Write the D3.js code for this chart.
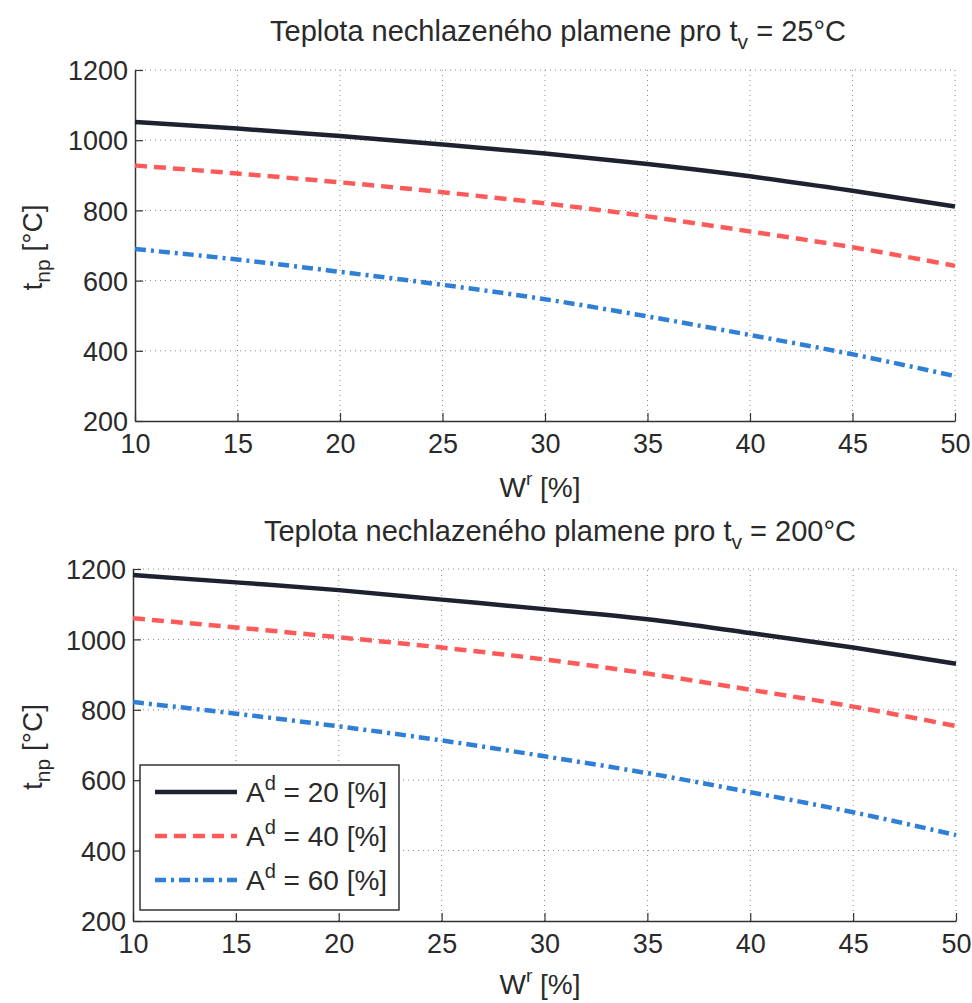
<!DOCTYPE html>
<html>
<head>
<meta charset="utf-8">
<title>Teplota nechlazeného plamene</title>
<script src="https://cdn.jsdelivr.net/npm/d3@7"></script>
<style>
  body { margin: 0; background: #fff; }
  svg { display: block; font-family: "Liberation Sans", Arial, sans-serif; }
</style>
</head>
<body>
<div id="chart"></div>
<script>
// moisture W^r [%]
var moisture = [10, 15, 20, 25, 30, 35, 40, 45, 50];
var ashLabels = ["20", "40", "60"];

// t_v = 25 °C
var top_A20 = [1052, 1033, 1012, 988, 962, 932, 897, 856, 811];
var top_A40 = [928, 905, 880, 852, 820, 783, 740, 695, 642];
var top_A60 = [690, 660, 625, 588, 547, 498, 445, 390, 328];

// t_v = 200 °C
var bot_A20 = [1183, 1162, 1140, 1113, 1086, 1057, 1018, 977, 931];
var bot_A40 = [1060, 1034, 1006, 977, 943, 903, 857, 809, 754];
var bot_A60 = [822, 789, 753, 713, 668, 620, 566, 509, 444];

var xTicks = [10, 15, 20, 25, 30, 35, 40, 45, 50];
var yTicks = [200, 400, 600, 800, 1000, 1200];

var styles = [
  { color: "#1e2130", width: 4.5, dash: null },
  { color: "#ff5a5a", width: 4.5, dash: "12,7" },
  { color: "#2f7fd6", width: 4.5, dash: "11,5,3,5" }
];

var W = 972, H = 1003;
var svg = d3.select("#chart").append("svg")
  .attr("width", W).attr("height", H);

function panel(cfg) {
  var x = d3.scaleLinear().domain([10, 50]).range([cfg.left, cfg.right]);
  var y = d3.scaleLinear().domain([200, 1200]).range([cfg.bottom, cfg.top]);
  var g = svg.append("g");

  // dotted grid
  g.selectAll(".vg").data(xTicks.slice(1)).join("line")
    .attr("x1", d => x(d)).attr("x2", d => x(d))
    .attr("y1", y(200)).attr("y2", y(1200))
    .attr("stroke", "#888").attr("stroke-width", 1).attr("stroke-dasharray", "1,4");
  g.selectAll(".hg").data(yTicks.slice(1)).join("line")
    .attr("x1", x(10)).attr("x2", x(50))
    .attr("y1", d => y(d)).attr("y2", d => y(d))
    .attr("stroke", "#888").attr("stroke-width", 1).attr("stroke-dasharray", "1,4");

  // axes (ticks inward)
  var xAxis = g.append("g").attr("transform", `translate(0,${y(200)})`)
    .call(d3.axisBottom(x).tickValues(xTicks).tickFormat(d3.format("d"))
      .tickSizeInner(-8).tickSizeOuter(0).tickPadding(6));
  var yAxis = g.append("g").attr("transform", `translate(${x(10)},0)`)
    .call(d3.axisLeft(y).tickValues(yTicks).tickFormat(d3.format("d"))
      .tickSizeInner(-8).tickSizeOuter(0).tickPadding(7));
  [xAxis, yAxis].forEach(a => {
    a.select(".domain").attr("stroke", "#333").attr("stroke-width", 1.5);
    a.selectAll(".tick line").attr("stroke", "#333").attr("stroke-width", 1.2);
    a.selectAll("text").attr("fill", "#2a2a2a").style("font-size", "27px")
      .style("font-family", "'Liberation Sans', Arial, sans-serif");
  });
  xAxis.selectAll("text").attr("dy", "0.98em");
  yAxis.selectAll("text").attr("dy", "0.36em");

  // lines
  var line = d3.line().x((d, i) => x(moisture[i])).y(d => y(d)).curve(d3.curveMonotoneX);
  cfg.series.forEach((s, i) => {
    g.append("path").datum(s)
      .attr("fill", "none")
      .attr("stroke", styles[i].color)
      .attr("stroke-width", styles[i].width)
      .attr("stroke-dasharray", styles[i].dash)
      .attr("d", line);
  });

  // title
  var t = g.append("text").attr("x", cfg.titleX).attr("y", cfg.titleY)
    .attr("text-anchor", "middle").attr("fill", "#2a2a2a").style("font-size", "29px");
  t.append("tspan").text(cfg.titleA);
  t.append("tspan").text("t");
  t.append("tspan").attr("dy", 8).style("font-size", "21px").text("v");
  t.append("tspan").attr("dy", -8).text(cfg.titleB);

  // x label
  var xl = g.append("text").attr("x", cfg.xLabelX).attr("y", cfg.xLabelY)
    .attr("text-anchor", "middle").attr("fill", "#2a2a2a").style("font-size", "28px");
  xl.append("tspan").text("W");
  xl.append("tspan").attr("dy", -12).style("font-size", "19px").text("r");
  xl.append("tspan").attr("dy", 12).text(" [%]");

  // y label
  var yl = g.append("text")
    .attr("transform", `translate(42,${(cfg.top + cfg.bottom) / 2 + 2}) rotate(-90)`)
    .attr("text-anchor", "middle").attr("fill", "#2a2a2a").style("font-size", "28px");
  yl.append("tspan").text("t");
  yl.append("tspan").attr("dy", 8).style("font-size", "21px").text("np");
  yl.append("tspan").attr("dy", -8).text(" [°C]");

  return { x: x, y: y, g: g };
}

panel({
  left: 135, right: 955, top: 70, bottom: 421,
  series: [top_A20, top_A40, top_A60],
  titleA: "Teplota nechlazeného plamene pro ", titleB: " = 25°C",
  titleX: 558, titleY: 41, xLabelX: 540, xLabelY: 497
});

var p2 = panel({
  left: 133, right: 956, top: 569, bottom: 921,
  series: [bot_A20, bot_A40, bot_A60],
  titleA: "Teplota nechlazeného plamene  pro ", titleB: " = 200°C",
  titleX: 560, titleY: 541, xLabelX: 540, xLabelY: 994
});

// legend
var lg = p2.g.append("g").attr("transform", "translate(140,765)");
lg.append("rect").attr("width", 259).attr("height", 145)
  .attr("fill", "#fff").attr("stroke", "#333").attr("stroke-width", 1.5);
ashLabels.forEach((a, i) => {
  var yy = 27 + i * 44;
  lg.append("line").attr("x1", 15).attr("x2", 97).attr("y1", yy).attr("y2", yy)
    .attr("stroke", styles[i].color).attr("stroke-width", styles[i].width)
    .attr("stroke-dasharray", styles[i].dash);
  var t = lg.append("text").attr("x", 106).attr("y", yy + 10)
    .attr("fill", "#2a2a2a").style("font-size", "28px");
  t.append("tspan").text("A");
  t.append("tspan").attr("dy", -12).style("font-size", "20px").text("d");
  t.append("tspan").attr("dy", 12).text(` = ${a} [%]`);
});
</script>
</body>
</html>
